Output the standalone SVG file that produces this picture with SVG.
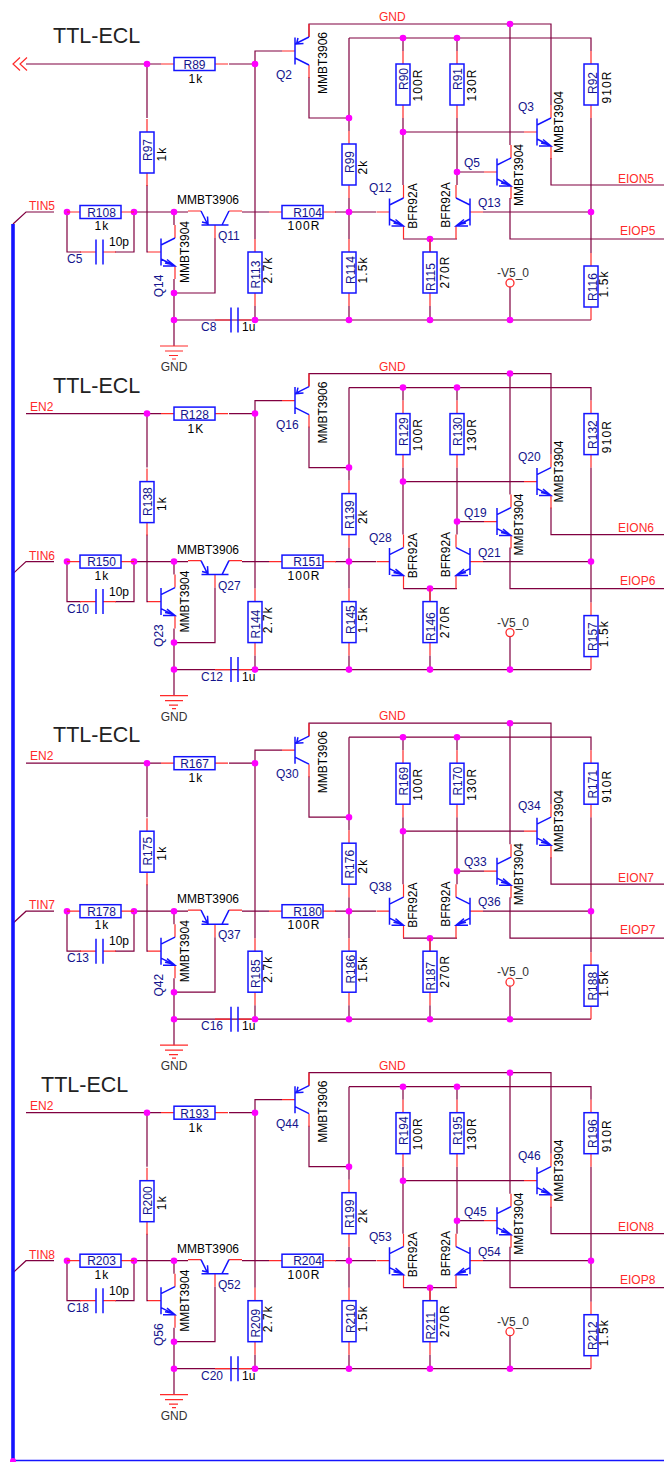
<svg xmlns="http://www.w3.org/2000/svg" width="664" height="1462" viewBox="0 0 664 1462">
<style>
text{font-family:"Liberation Sans",Arial,sans-serif;font-size:12px}
.t{font-size:21.5px;fill:#222}
.n{fill:#14148c}
.m{text-anchor:middle}
.v{fill:#000;letter-spacing:1.1px;text-anchor:middle}
.p{fill:#000}
.l{fill:#ff2a2a}
.g{fill:#333}
.w{fill:none;stroke:#800040;stroke-width:1.2}
.s{fill:none;stroke:#ff2a2a;stroke-width:1.2}
.b{fill:none;stroke:#1414ff;stroke-width:1.5}
.j{fill:#ff00ff;stroke:none}
</style>
<defs>
<g id="rh"><path class="s" d="M-13,0H0M41,0H54"/><rect class="b" x="0" y="-6.5" width="41" height="13"/></g>
<g id="rv"><path class="s" d="M0,-13V0M0,41V54"/><rect class="b" x="-7" y="0" width="14" height="41"/></g>
<g id="qn"><path class="s" d="M-13,0H0M14,-14V-27M14,14V27"/><path class="b" d="M0,-13.5V13.5M0,-7L14,-14M0,7L14,14M2,14H14L6,7.5M4,11L11,12.5"/></g>
<g id="qp"><path class="s" d="M-13,0H0M14,-14V-27M14,14V27"/><path class="b" d="M0,-13.5V13.5M0,-7L14,-14M0,7L14,14M3,-13L1.5,-7L8.5,-7.5"/></g>
<g id="cap"><path class="s" d="M-16,0H0M7,0H20"/><path class="b" d="M0,-12.5V12.5M7,-12.5V12.5"/></g>
<g id="gnd"><path class="s" d="M-14,0H14M-9,5H9M-5,9.5H4M-2,13H2"/></g>
<g id="wires">
<path class="w" d="M26,64H161M229,64H255V51H282M255,64V239M255,306V320M147,64V118M147,185V252H148"/>
<path class="w" d="M309,37V24H551V105M551,158V185H664M309,77V118H349M349,38V131M349,198V239M349,306V320M349,38H591V51"/>
<path class="w" d="M242,212H269M335,212H376M403,38V51M403,118V185M403,132H524M457,38V51M457,118V185M457,172H484"/>
<path class="w" d="M510,24V145M510,198V239H664M591,118V253M591,320H174M483,212H591M403,239H457M430,239V252M430,306V320M510,287V320"/>
<path class="w" d="M13,224L26,212H54M67,212V252H81M115,252H134V212M134,212H188M174,212V225M174,279V346M174,293H215V238"/>
<path class="j" d="M147,64m-3.3,0a3.3,3.3 0 1,0 6.6,0a3.3,3.3 0 1,0 -6.6,0M255,64m-3.3,0a3.3,3.3 0 1,0 6.6,0a3.3,3.3 0 1,0 -6.6,0M349,118m-3.3,0a3.3,3.3 0 1,0 6.6,0a3.3,3.3 0 1,0 -6.6,0M403,38m-3.3,0a3.3,3.3 0 1,0 6.6,0a3.3,3.3 0 1,0 -6.6,0M457,38m-3.3,0a3.3,3.3 0 1,0 6.6,0a3.3,3.3 0 1,0 -6.6,0M510,24m-3.3,0a3.3,3.3 0 1,0 6.6,0a3.3,3.3 0 1,0 -6.6,0M403,132m-3.3,0a3.3,3.3 0 1,0 6.6,0a3.3,3.3 0 1,0 -6.6,0M457,172m-3.3,0a3.3,3.3 0 1,0 6.6,0a3.3,3.3 0 1,0 -6.6,0M349,212m-3.3,0a3.3,3.3 0 1,0 6.6,0a3.3,3.3 0 1,0 -6.6,0M591,212m-3.3,0a3.3,3.3 0 1,0 6.6,0a3.3,3.3 0 1,0 -6.6,0M430,239m-3.3,0a3.3,3.3 0 1,0 6.6,0a3.3,3.3 0 1,0 -6.6,0M349,320m-3.3,0a3.3,3.3 0 1,0 6.6,0a3.3,3.3 0 1,0 -6.6,0M430,320m-3.3,0a3.3,3.3 0 1,0 6.6,0a3.3,3.3 0 1,0 -6.6,0M510,320m-3.3,0a3.3,3.3 0 1,0 6.6,0a3.3,3.3 0 1,0 -6.6,0M255,320m-3.3,0a3.3,3.3 0 1,0 6.6,0a3.3,3.3 0 1,0 -6.6,0M174,320m-3.3,0a3.3,3.3 0 1,0 6.6,0a3.3,3.3 0 1,0 -6.6,0M174,293m-3.3,0a3.3,3.3 0 1,0 6.6,0a3.3,3.3 0 1,0 -6.6,0M174,212m-3.3,0a3.3,3.3 0 1,0 6.6,0a3.3,3.3 0 1,0 -6.6,0M134,212m-3.3,0a3.3,3.3 0 1,0 6.6,0a3.3,3.3 0 1,0 -6.6,0M67,212m-3.3,0a3.3,3.3 0 1,0 6.6,0a3.3,3.3 0 1,0 -6.6,0"/>
</g>
</defs>
<rect width="664" height="1462" fill="#fff"/>
<g id="connectors">
<use href="#wires"/>
<use href="#wires" y="349.6"/>
<use href="#wires" y="699.2"/>
<use href="#wires" y="1048.7"/>
<path d="M13,224V1460" fill="none" stroke="#1414ff" stroke-width="3.6"/>
<path d="M13,1460.5H664" fill="none" stroke="#1414ff" stroke-width="1.6"/>
<circle class="j" cx="13" cy="1461" r="3"/>
<path class="s" d="M20,57.5L13,64L20,70.5M27,57.5L20,64L27,70.5"/>
</g>

<g id="block1">
<text class="t" x="53" y="43">TTL-ECL</text>
<text class="l" x="29" y="210">TIN5</text>
<text class="l" x="379" y="21">GND</text>
<text class="l" x="618" y="182.7">EION5</text>
<text class="l" x="620" y="235">EIOP5</text>
<g id="R89"><use href="#rh" x="174" y="64"/><text class="n m" x="194.5" y="69">R89</text><text class="v" x="196" y="83">1k</text></g>
<g id="R97"><use href="#rv" x="147" y="132"/><text class="n m" transform="translate(152,150) rotate(-90)">R97</text><text class="v" transform="translate(166,154) rotate(-90)">1k</text></g>
<g id="R108"><use href="#rh" x="80" y="212"/><text class="n m" x="101.5" y="216.5">R108</text><text class="v" x="102" y="230">1k</text></g>
<g id="C5"><use href="#cap" x="96" y="252"/><text class="p" x="109" y="246">10p</text><text class="n" x="67" y="263">C5</text></g>
<g id="Q11"><use href="#qp" transform="translate(215,225) rotate(-90)"/><text class="p" x="177" y="204">MMBT3906</text><text class="n" x="218" y="240">Q11</text></g>
<g id="Q14"><use href="#qn" x="161" y="252"/><text class="p m" transform="translate(189,252) rotate(-90)">MMBT3904</text><text class="n m" transform="translate(163,286) rotate(-90)">Q14</text></g>
<g id="R104"><use href="#rh" x="282" y="212"/><text class="n m" x="307.5" y="216.5">R104</text><text class="v" x="304" y="230">100R</text></g>
<g id="R113"><use href="#rv" x="255" y="252"/><text class="n m" transform="translate(260,274.5) rotate(-90)">R113</text><text class="v" transform="translate(272,270) rotate(-90)">2.7k</text></g>
<g id="C8"><use href="#cap" x="231" y="320"/><text class="n" x="201" y="331">C8</text><text class="p" x="242" y="331">1u</text></g>
<g id="GND1"><use href="#gnd" x="174" y="346"/><text class="g m" x="174" y="371">GND</text></g>
<g id="Q2"><use href="#qp" x="295" y="51"/><text class="p m" transform="translate(327,63) rotate(-90)">MMBT3906</text><text class="n" x="276" y="79">Q2</text></g>
<g id="R99"><use href="#rv" x="349" y="144"/><text class="n m" transform="translate(354,162) rotate(-90)">R99</text><text class="v" transform="translate(367,167) rotate(-90)">2k</text></g>
<g id="R114"><use href="#rv" x="349" y="252"/><text class="n m" transform="translate(355,270) rotate(-90)">R114</text><text class="v" transform="translate(367,270) rotate(-90)">1.5k</text></g>
<g id="R90"><use href="#rv" x="403" y="64"/><text class="n m" transform="translate(408,79) rotate(-90)">R90</text><text class="v" transform="translate(422,85) rotate(-90)">100R</text></g>
<g id="R91"><use href="#rv" x="457" y="64"/><text class="n m" transform="translate(462,79) rotate(-90)">R91</text><text class="v" transform="translate(476,85) rotate(-90)">130R</text></g>
<g id="R92"><use href="#rv" x="591" y="64"/><text class="n m" transform="translate(597,83) rotate(-90)">R92</text><text class="v" transform="translate(610.5,87) rotate(-90)">910R</text></g>
<g id="Q3"><use href="#qn" x="537" y="132"/><text class="n" x="518" y="111">Q3</text><text class="p m" transform="translate(563,122) rotate(-90)">MMBT3904</text></g>
<g id="Q5"><use href="#qn" x="497" y="172"/><text class="n" x="464" y="167">Q5</text><text class="p m" transform="translate(522.5,175) rotate(-90)">MMBT3904</text></g>
<g id="Q12"><use href="#qn" x="389.5" y="212"/><text class="n" x="369" y="192">Q12</text><text class="p m" transform="translate(416.5,206) rotate(-90)">BFR92A</text></g>
<g id="Q13"><use href="#qn" transform="translate(470,212) scale(-1,1)"/><text class="n" x="478" y="207">Q13</text><text class="p m" transform="translate(450,205) rotate(-90)">BFR92A</text></g>
<g id="R115"><use href="#rv" x="430" y="252"/><text class="n m" transform="translate(435,277) rotate(-90)">R115</text><text class="v" transform="translate(449,272) rotate(-90)">270R</text></g>
<g id="V5_1"><circle cx="510" cy="283" r="4" fill="none" stroke="#ff2a2a" stroke-width="1.3"/><text class="g" x="497" y="277">-V5_0</text></g>
<g id="R116"><use href="#rv" x="591" y="266"/><text class="n m" transform="translate(597,287) rotate(-90)">R116</text><text class="v" transform="translate(608,284) rotate(-90)">1.5k</text></g>
</g>

<g id="block2" transform="translate(0,349.6)">
<text class="t" x="53" y="43">TTL-ECL</text>
<text class="l" x="30" y="61">EN2</text>
<text class="l" x="29" y="210">TIN6</text>
<text class="l" x="379" y="21">GND</text>
<text class="l" x="618" y="182.7">EION6</text>
<text class="l" x="620" y="235">EIOP6</text>
<g id="R128"><use href="#rh" x="174" y="64"/><text class="n m" x="194.5" y="69">R128</text><text class="v" x="196" y="83">1K</text></g>
<g id="R138"><use href="#rv" x="147" y="132"/><text class="n m" transform="translate(152,152) rotate(-90)">R138</text><text class="v" transform="translate(166,154) rotate(-90)">1k</text></g>
<g id="R150"><use href="#rh" x="80" y="212"/><text class="n m" x="101.5" y="216.5">R150</text><text class="v" x="102" y="230">1k</text></g>
<g id="C10"><use href="#cap" x="96" y="252"/><text class="p" x="109" y="246">10p</text><text class="n" x="67" y="263">C10</text></g>
<g id="Q27"><use href="#qp" transform="translate(215,225) rotate(-90)"/><text class="p" x="177" y="204">MMBT3906</text><text class="n" x="218" y="240">Q27</text></g>
<g id="Q23"><use href="#qn" x="161" y="252"/><text class="p m" transform="translate(189,252) rotate(-90)">MMBT3904</text><text class="n m" transform="translate(163,286) rotate(-90)">Q23</text></g>
<g id="R151"><use href="#rh" x="282" y="212"/><text class="n m" x="307.5" y="216.5">R151</text><text class="v" x="304" y="230">100R</text></g>
<g id="R144"><use href="#rv" x="255" y="252"/><text class="n m" transform="translate(260,274.5) rotate(-90)">R144</text><text class="v" transform="translate(272,270) rotate(-90)">2.7k</text></g>
<g id="C12"><use href="#cap" x="231" y="320"/><text class="n" x="201" y="331">C12</text><text class="p" x="242" y="331">1u</text></g>
<g id="GND2"><use href="#gnd" x="174" y="346"/><text class="g m" x="174" y="371">GND</text></g>
<g id="Q16"><use href="#qp" x="295" y="51"/><text class="p m" transform="translate(327,63) rotate(-90)">MMBT3906</text><text class="n" x="276" y="79">Q16</text></g>
<g id="R139"><use href="#rv" x="349" y="144"/><text class="n m" transform="translate(354,165) rotate(-90)">R139</text><text class="v" transform="translate(367,167) rotate(-90)">2k</text></g>
<g id="R145"><use href="#rv" x="349" y="252"/><text class="n m" transform="translate(355,270) rotate(-90)">R145</text><text class="v" transform="translate(367,270) rotate(-90)">1.5k</text></g>
<g id="R129"><use href="#rv" x="403" y="64"/><text class="n m" transform="translate(408,82) rotate(-90)">R129</text><text class="v" transform="translate(422,85) rotate(-90)">100R</text></g>
<g id="R130"><use href="#rv" x="457" y="64"/><text class="n m" transform="translate(462,82) rotate(-90)">R130</text><text class="v" transform="translate(476,85) rotate(-90)">130R</text></g>
<g id="R132"><use href="#rv" x="591" y="64"/><text class="n m" transform="translate(597,85) rotate(-90)">R132</text><text class="v" transform="translate(610.5,87) rotate(-90)">910R</text></g>
<g id="Q20"><use href="#qn" x="537" y="132"/><text class="n" x="518" y="111">Q20</text><text class="p m" transform="translate(563,122) rotate(-90)">MMBT3904</text></g>
<g id="Q19"><use href="#qn" x="497" y="172"/><text class="n" x="464" y="167">Q19</text><text class="p m" transform="translate(522.5,175) rotate(-90)">MMBT3904</text></g>
<g id="Q28"><use href="#qn" x="389.5" y="212"/><text class="n" x="369" y="192">Q28</text><text class="p m" transform="translate(416.5,206) rotate(-90)">BFR92A</text></g>
<g id="Q21"><use href="#qn" transform="translate(470,212) scale(-1,1)"/><text class="n" x="478" y="207">Q21</text><text class="p m" transform="translate(450,205) rotate(-90)">BFR92A</text></g>
<g id="R146"><use href="#rv" x="430" y="252"/><text class="n m" transform="translate(435,277) rotate(-90)">R146</text><text class="v" transform="translate(449,272) rotate(-90)">270R</text></g>
<g id="V5_2"><circle cx="510" cy="283" r="4" fill="none" stroke="#ff2a2a" stroke-width="1.3"/><text class="g" x="497" y="277">-V5_0</text></g>
<g id="R157"><use href="#rv" x="591" y="266"/><text class="n m" transform="translate(597,287) rotate(-90)">R157</text><text class="v" transform="translate(608,284) rotate(-90)">1.5k</text></g>
</g>

<g id="block3" transform="translate(0,699.2)">
<text class="t" x="53" y="43">TTL-ECL</text>
<text class="l" x="30" y="61">EN2</text>
<text class="l" x="29" y="210">TIN7</text>
<text class="l" x="379" y="21">GND</text>
<text class="l" x="618" y="182.7">EION7</text>
<text class="l" x="620" y="235">EIOP7</text>
<g id="R167"><use href="#rh" x="174" y="64"/><text class="n m" x="194.5" y="69">R167</text><text class="v" x="196" y="83">1k</text></g>
<g id="R175"><use href="#rv" x="147" y="132"/><text class="n m" transform="translate(152,152) rotate(-90)">R175</text><text class="v" transform="translate(166,154) rotate(-90)">1k</text></g>
<g id="R178"><use href="#rh" x="80" y="212"/><text class="n m" x="101.5" y="216.5">R178</text><text class="v" x="102" y="230">1k</text></g>
<g id="C13"><use href="#cap" x="96" y="252"/><text class="p" x="109" y="246">10p</text><text class="n" x="67" y="263">C13</text></g>
<g id="Q37"><use href="#qp" transform="translate(215,225) rotate(-90)"/><text class="p" x="177" y="204">MMBT3906</text><text class="n" x="218" y="240">Q37</text></g>
<g id="Q42"><use href="#qn" x="161" y="252"/><text class="p m" transform="translate(189,252) rotate(-90)">MMBT3904</text><text class="n m" transform="translate(163,286) rotate(-90)">Q42</text></g>
<g id="R180"><use href="#rh" x="282" y="212"/><text class="n m" x="307.5" y="216.5">R180</text><text class="v" x="304" y="230">100R</text></g>
<g id="R185"><use href="#rv" x="255" y="252"/><text class="n m" transform="translate(260,274.5) rotate(-90)">R185</text><text class="v" transform="translate(272,270) rotate(-90)">2.7k</text></g>
<g id="C16"><use href="#cap" x="231" y="320"/><text class="n" x="201" y="331">C16</text><text class="p" x="242" y="331">1u</text></g>
<g id="GND3"><use href="#gnd" x="174" y="346"/><text class="g m" x="174" y="371">GND</text></g>
<g id="Q30"><use href="#qp" x="295" y="51"/><text class="p m" transform="translate(327,63) rotate(-90)">MMBT3906</text><text class="n" x="276" y="79">Q30</text></g>
<g id="R176"><use href="#rv" x="349" y="144"/><text class="n m" transform="translate(354,165) rotate(-90)">R176</text><text class="v" transform="translate(367,167) rotate(-90)">2k</text></g>
<g id="R186"><use href="#rv" x="349" y="252"/><text class="n m" transform="translate(355,270) rotate(-90)">R186</text><text class="v" transform="translate(367,270) rotate(-90)">1.5k</text></g>
<g id="R169"><use href="#rv" x="403" y="64"/><text class="n m" transform="translate(408,82) rotate(-90)">R169</text><text class="v" transform="translate(422,85) rotate(-90)">100R</text></g>
<g id="R170"><use href="#rv" x="457" y="64"/><text class="n m" transform="translate(462,82) rotate(-90)">R170</text><text class="v" transform="translate(476,85) rotate(-90)">130R</text></g>
<g id="R171"><use href="#rv" x="591" y="64"/><text class="n m" transform="translate(597,85) rotate(-90)">R171</text><text class="v" transform="translate(610.5,87) rotate(-90)">910R</text></g>
<g id="Q34"><use href="#qn" x="537" y="132"/><text class="n" x="518" y="111">Q34</text><text class="p m" transform="translate(563,122) rotate(-90)">MMBT3904</text></g>
<g id="Q33"><use href="#qn" x="497" y="172"/><text class="n" x="464" y="167">Q33</text><text class="p m" transform="translate(522.5,175) rotate(-90)">MMBT3904</text></g>
<g id="Q38"><use href="#qn" x="389.5" y="212"/><text class="n" x="369" y="192">Q38</text><text class="p m" transform="translate(416.5,206) rotate(-90)">BFR92A</text></g>
<g id="Q36"><use href="#qn" transform="translate(470,212) scale(-1,1)"/><text class="n" x="478" y="207">Q36</text><text class="p m" transform="translate(450,205) rotate(-90)">BFR92A</text></g>
<g id="R187"><use href="#rv" x="430" y="252"/><text class="n m" transform="translate(435,277) rotate(-90)">R187</text><text class="v" transform="translate(449,272) rotate(-90)">270R</text></g>
<g id="V5_3"><circle cx="510" cy="283" r="4" fill="none" stroke="#ff2a2a" stroke-width="1.3"/><text class="g" x="497" y="277">-V5_0</text></g>
<g id="R188"><use href="#rv" x="591" y="266"/><text class="n m" transform="translate(597,287) rotate(-90)">R188</text><text class="v" transform="translate(608,284) rotate(-90)">1.5k</text></g>
</g>

<g id="block4" transform="translate(0,1048.7)">
<text class="t" x="41" y="43">TTL-ECL</text>
<text class="l" x="30" y="61">EN2</text>
<text class="l" x="29" y="210">TIN8</text>
<text class="l" x="379" y="21">GND</text>
<text class="l" x="618" y="182.7">EION8</text>
<text class="l" x="620" y="235">EIOP8</text>
<g id="R193"><use href="#rh" x="174" y="64"/><text class="n m" x="194.5" y="69">R193</text><text class="v" x="196" y="83">1k</text></g>
<g id="R200"><use href="#rv" x="147" y="132"/><text class="n m" transform="translate(152,152) rotate(-90)">R200</text><text class="v" transform="translate(166,154) rotate(-90)">1k</text></g>
<g id="R203"><use href="#rh" x="80" y="212"/><text class="n m" x="101.5" y="216.5">R203</text><text class="v" x="102" y="230">1k</text></g>
<g id="C18"><use href="#cap" x="96" y="252"/><text class="p" x="109" y="246">10p</text><text class="n" x="67" y="263">C18</text></g>
<g id="Q52"><use href="#qp" transform="translate(215,225) rotate(-90)"/><text class="p" x="177" y="204">MMBT3906</text><text class="n" x="218" y="240">Q52</text></g>
<g id="Q56"><use href="#qn" x="161" y="252"/><text class="p m" transform="translate(189,252) rotate(-90)">MMBT3904</text><text class="n m" transform="translate(163,286) rotate(-90)">Q56</text></g>
<g id="R204"><use href="#rh" x="282" y="212"/><text class="n m" x="307.5" y="216.5">R204</text><text class="v" x="304" y="230">100R</text></g>
<g id="R209"><use href="#rv" x="255" y="252"/><text class="n m" transform="translate(260,274.5) rotate(-90)">R209</text><text class="v" transform="translate(272,270) rotate(-90)">2.7k</text></g>
<g id="C20"><use href="#cap" x="231" y="320"/><text class="n" x="201" y="331">C20</text><text class="p" x="242" y="331">1u</text></g>
<g id="GND4"><use href="#gnd" x="174" y="346"/><text class="g m" x="174" y="371">GND</text></g>
<g id="Q44"><use href="#qp" x="295" y="51"/><text class="p m" transform="translate(327,63) rotate(-90)">MMBT3906</text><text class="n" x="276" y="79">Q44</text></g>
<g id="R199"><use href="#rv" x="349" y="144"/><text class="n m" transform="translate(354,165) rotate(-90)">R199</text><text class="v" transform="translate(367,167) rotate(-90)">2k</text></g>
<g id="R210"><use href="#rv" x="349" y="252"/><text class="n m" transform="translate(355,270) rotate(-90)">R210</text><text class="v" transform="translate(367,270) rotate(-90)">1.5k</text></g>
<g id="R194"><use href="#rv" x="403" y="64"/><text class="n m" transform="translate(408,82) rotate(-90)">R194</text><text class="v" transform="translate(422,85) rotate(-90)">100R</text></g>
<g id="R195"><use href="#rv" x="457" y="64"/><text class="n m" transform="translate(462,82) rotate(-90)">R195</text><text class="v" transform="translate(476,85) rotate(-90)">130R</text></g>
<g id="R196"><use href="#rv" x="591" y="64"/><text class="n m" transform="translate(597,85) rotate(-90)">R196</text><text class="v" transform="translate(610.5,87) rotate(-90)">910R</text></g>
<g id="Q46"><use href="#qn" x="537" y="132"/><text class="n" x="518" y="111">Q46</text><text class="p m" transform="translate(563,122) rotate(-90)">MMBT3904</text></g>
<g id="Q45"><use href="#qn" x="497" y="172"/><text class="n" x="464" y="167">Q45</text><text class="p m" transform="translate(522.5,175) rotate(-90)">MMBT3904</text></g>
<g id="Q53"><use href="#qn" x="389.5" y="212"/><text class="n" x="369" y="192">Q53</text><text class="p m" transform="translate(416.5,206) rotate(-90)">BFR92A</text></g>
<g id="Q54"><use href="#qn" transform="translate(470,212) scale(-1,1)"/><text class="n" x="478" y="207">Q54</text><text class="p m" transform="translate(450,205) rotate(-90)">BFR92A</text></g>
<g id="R211"><use href="#rv" x="430" y="252"/><text class="n m" transform="translate(435,277) rotate(-90)">R211</text><text class="v" transform="translate(449,272) rotate(-90)">270R</text></g>
<g id="V5_4"><circle cx="510" cy="283" r="4" fill="none" stroke="#ff2a2a" stroke-width="1.3"/><text class="g" x="497" y="277">-V5_0</text></g>
<g id="R212"><use href="#rv" x="591" y="266"/><text class="n m" transform="translate(597,287) rotate(-90)">R212</text><text class="v" transform="translate(608,284) rotate(-90)">1.5k</text></g>
</g>
</svg>
